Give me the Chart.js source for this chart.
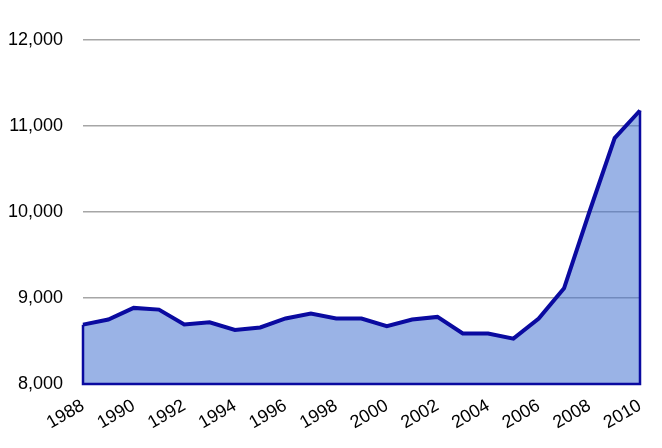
<!DOCTYPE html>
<html>
<head>
<meta charset="utf-8">
<script src="https://cdn.jsdelivr.net/npm/chart.js@4/dist/chart.umd.min.js"></script>
<style>
html,body{margin:0;padding:0;background:#fff;}
#wrap{width:662px;height:448px;position:relative;}
</style>
</head>
<body>
<div id="wrap"><canvas id="c" width="662" height="448"></canvas></div>
<script>
const years = ['1988','1989','1990','1991','1992','1993','1994','1995','1996','1997','1998','1999','2000','2001','2002','2003','2004','2005','2006','2007','2008','2009','2010'];
const values = [8690,8750,8885,8865,8692,8718,8628,8658,8762,8820,8762,8762,8672,8750,8780,8588,8588,8528,8760,9112,10000,10860,11180];
const yTicks = [8000,9000,10000,11000,12000];

const edgePlugin = {
  id: 'edges',
  afterDatasetsDraw(chart) {
    const meta = chart.getDatasetMeta(0);
    const pts = meta.data;
    const first = pts[0], last = pts[pts.length - 1];
    const bottom = chart.scales.y.getPixelForValue(yTicks[0]);
    const ctx = chart.ctx;
    ctx.save();
    ctx.strokeStyle = '#0A0AA0';
    ctx.lineWidth = 2.5;
    ctx.beginPath();
    ctx.moveTo(first.x, first.y);
    ctx.lineTo(first.x, bottom);
    ctx.lineTo(last.x, bottom);
    ctx.lineTo(last.x, last.y);
    ctx.stroke();
    ctx.restore();
  }
};

new Chart(document.getElementById('c'), {
  type: 'line',
  data: {
    labels: years,
    datasets: [{
      data: values,
      borderColor: '#0A0AA0',
      borderWidth: 4,
      backgroundColor: 'rgba(68,115,209,0.54)',
      fill: 'origin',
      pointRadius: 0,
      tension: 0
    }]
  },
  options: {
    responsive: false,
    animation: false,
    devicePixelRatio: 1,
    layout: { padding: { left: 0, right: 22, top: 40, bottom: 0 } },
    plugins: { legend: { display: false }, tooltip: { enabled: false } },
    scales: {
      x: {
        offset: false,
        grid: { display: false, drawTicks: false },
        border: { display: false },
        afterFit: function(scale) { scale.height = 64; },
        ticks: {
          autoSkip: false,
          maxRotation: 30,
          minRotation: 30,
          padding: 11,
          color: '#000',
          font: { family: "'Liberation Sans', Arial", size: 18 },
          callback: function(v, i) { return i % 2 === 0 ? years[i] : ''; }
        }
      },
      y: {
        min: 8000,
        max: 12000,
        afterBuildTicks: function(scale) { scale.ticks = yTicks.map(v => ({ value: v })); },
        afterFit: function(scale) { scale.width = 83; },
        grid: { color: '#A6A6A6', lineWidth: 1.5, drawTicks: false },
        border: { display: false },
        ticks: {
          padding: 20,
          color: '#000',
          font: { family: "'Liberation Sans', Arial", size: 18 },
          callback: function(v) { return v.toLocaleString('en-US'); }
        }
      }
    }
  },
  plugins: [edgePlugin]
});
</script>
</body>
</html>
